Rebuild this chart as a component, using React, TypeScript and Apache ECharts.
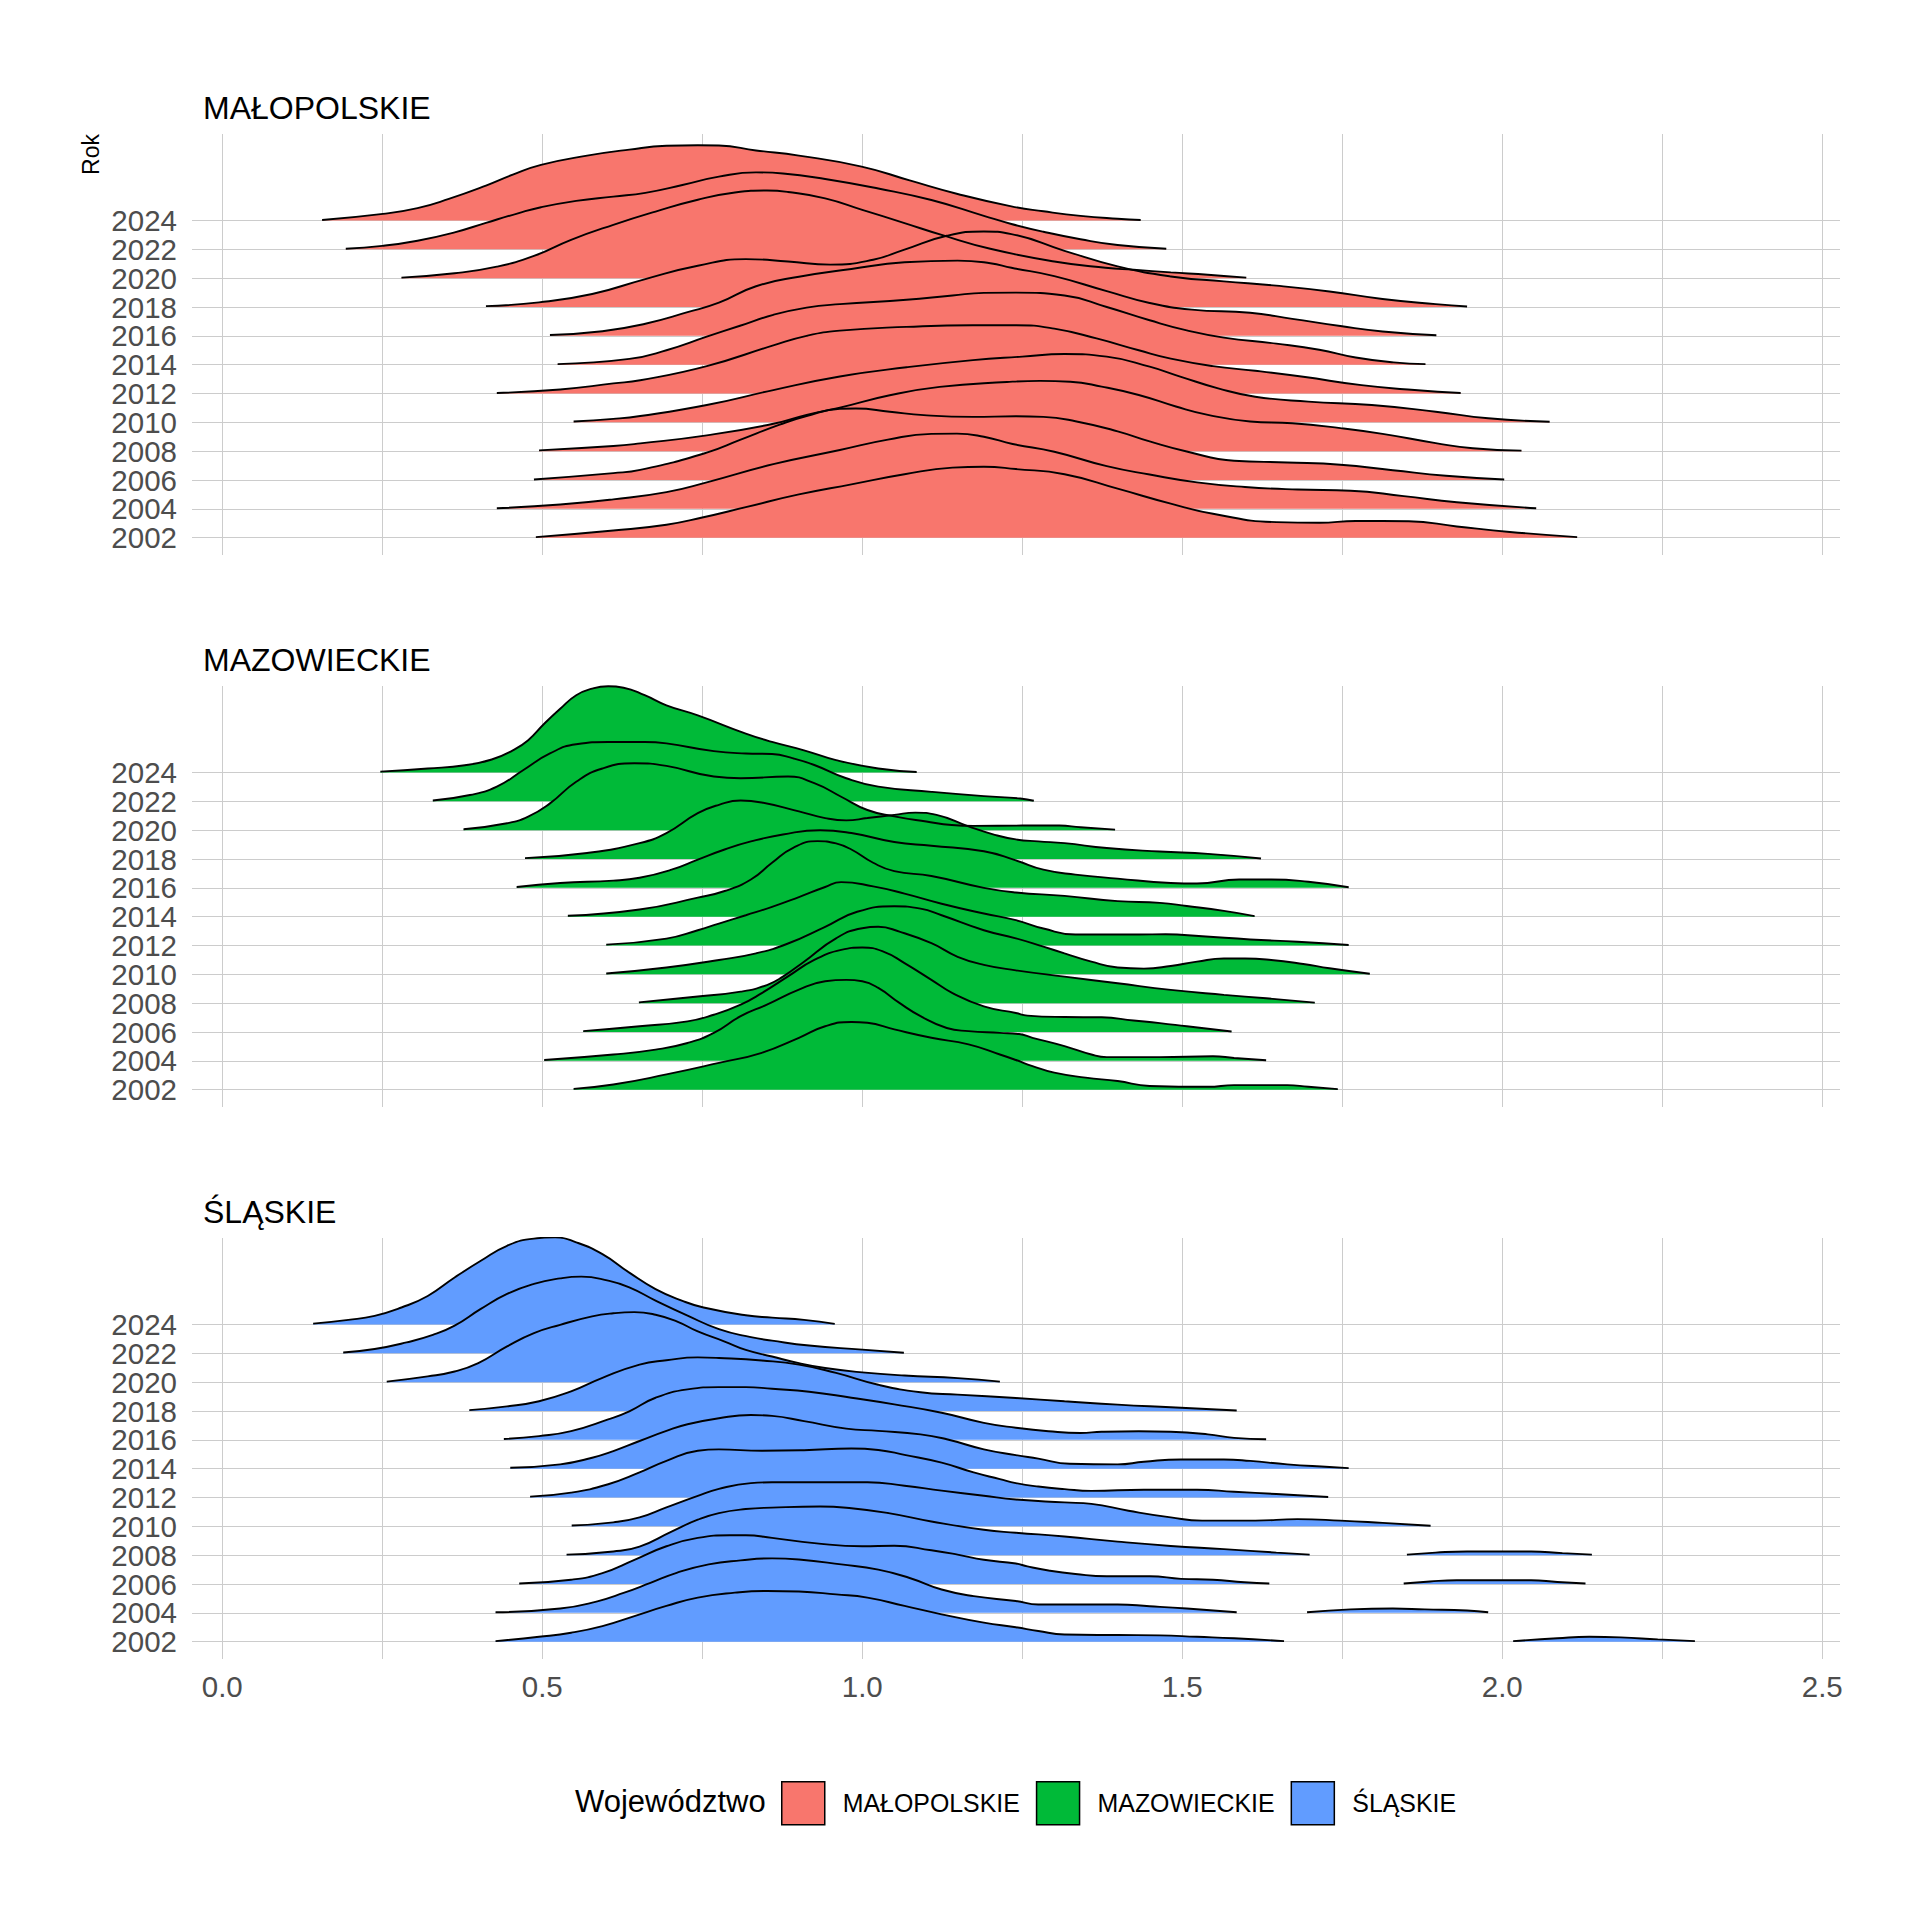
import React, { useEffect, useRef } from "react";
import * as echarts from "echarts";

const YEARS = [2002, 2004, 2006, 2008, 2010, 2012, 2014, 2016, 2018, 2020, 2022, 2024];
const REGIONS = ["MAŁOPOLSKIE", "MAZOWIECKIE", "ŚLĄSKIE"];
const COLORS = ["#F8766D", "#00BA38", "#619CFF"];
const X_TICKS = [0, 0.25, 0.5, 0.75, 1, 1.25, 1.5, 1.75, 2, 2.25, 2.5];
const X_LABELS = [0, 0.5, 1, 1.5, 2, 2.5];
const Y_IDX = [0, 1, 2, 3, 4, 5, 6, 7, 8, 9, 10, 11];
const Y_IDX_EVEN = [0, 2, 4, 6, 8, 10];
const Y_IDX_ODD = [1, 3, 5, 7, 9, 11];

type Pt = [number, number] | null;

// ridge profiles: [value, ridge height in row units], rows in YEARS order (2002 -> 2024)
const MALOPOLSKIE: Pt[][] = [
  [[0.49,0.02],[0.611,0.25],[0.694,0.45],[0.75,0.7],[0.818,1.06],[0.901,1.5],[0.983,1.85],[1.066,2.2],[1.141,2.43],[1.19,2.46],[1.24,2.38],[1.316,2.2],[1.399,1.7],[1.482,1.18],[1.548,0.83],[1.647,0.54],[1.714,0.52],[1.771,0.58],[1.854,0.57],[1.929,0.39],[2.012,0.2],[2.117,0.02]],
  [[0.429,0.02],[0.528,0.15],[0.611,0.33],[0.694,0.58],[0.757,0.92],[0.861,1.55],[0.965,2.04],[1.04,2.4],[1.108,2.6],[1.148,2.61],[1.19,2.5],[1.235,2.25],[1.3,1.98],[1.382,1.48],[1.449,1.19],[1.523,0.92],[1.598,0.76],[1.68,0.67],[1.763,0.63],[1.846,0.44],[1.929,0.23],[2.053,0.02]],
  [[0.487,0.02],[0.611,0.24],[0.653,0.35],[0.757,0.95],[0.809,1.39],[0.871,1.92],[0.913,2.22],[0.965,2.47],[0.99,2.48],[1.043,2.37],[1.096,2.25],[1.173,2.19],[1.24,2.21],[1.283,2.19],[1.333,2.04],[1.399,1.69],[1.449,1.34],[1.507,0.99],[1.581,0.67],[1.664,0.61],[1.747,0.53],[1.829,0.34],[1.912,0.15],[2.003,0.02]],
  [[0.495,0.03],[0.611,0.18],[0.653,0.27],[0.757,0.55],[0.861,0.95],[0.913,1.26],[0.965,1.51],[1.043,1.94],[1.121,2.23],[1.226,2.4],[1.278,2.44],[1.325,2.41],[1.374,2.24],[1.432,1.95],[1.49,1.55],[1.54,1.26],[1.606,1.03],[1.672,0.97],[1.747,0.8],[1.813,0.6],[1.896,0.28],[1.954,0.1],[2.03,0.02]],
  [[0.549,0.03],[0.611,0.12],[0.653,0.22],[0.757,0.6],[0.861,1.12],[0.965,1.59],[1.069,1.91],[1.173,2.16],[1.25,2.28],[1.316,2.37],[1.382,2.28],[1.449,1.93],[1.498,1.58],[1.556,1.18],[1.614,0.89],[1.697,0.72],[1.796,0.6],[1.896,0.37],[1.978,0.14],[2.074,0.02]],
  [[0.429,0.02],[0.528,0.14],[0.611,0.35],[0.653,0.46],[0.757,0.95],[0.861,1.67],[0.913,2.0],[0.965,2.18],[1.069,2.31],[1.173,2.37],[1.24,2.37],[1.3,2.25],[1.366,1.91],[1.432,1.5],[1.482,1.21],[1.548,0.95],[1.614,0.79],[1.689,0.58],[1.78,0.29],[1.863,0.12],[1.935,0.02]],
  [[0.524,0.02],[0.636,0.2],[0.694,0.5],[0.757,0.97],[0.809,1.35],[0.861,1.73],[0.913,1.98],[0.965,2.1],[1.069,2.25],[1.141,2.4],[1.19,2.49],[1.24,2.5],[1.316,2.4],[1.382,2.0],[1.449,1.54],[1.507,1.19],[1.565,0.94],[1.647,0.73],[1.714,0.52],[1.771,0.25],[1.83,0.08],[1.88,0.02]],
  [[0.512,0.03],[0.594,0.16],[0.661,0.42],[0.727,0.82],[0.776,1.15],[0.834,1.72],[0.901,2.05],[0.983,2.32],[1.066,2.55],[1.149,2.61],[1.2,2.52],[1.233,2.36],[1.3,2.07],[1.382,1.55],[1.449,1.14],[1.515,0.91],[1.606,0.8],[1.672,0.59],[1.747,0.34],[1.813,0.15],[1.897,0.02]],
  [[0.412,0.03],[0.495,0.16],[0.578,0.45],[0.661,0.97],[0.743,1.43],[0.818,1.66],[0.884,1.58],[0.95,1.47],[1.017,1.64],[1.066,1.99],[1.132,2.47],[1.19,2.62],[1.233,2.53],[1.316,1.95],[1.399,1.41],[1.482,1.06],[1.565,0.89],[1.647,0.74],[1.73,0.54],[1.813,0.28],[1.896,0.1],[1.945,0.02]],
  [[0.28,0.02],[0.363,0.17],[0.429,0.4],[0.487,0.77],[0.545,1.33],[0.611,1.85],[0.677,2.31],[0.743,2.72],[0.801,2.97],[0.851,3.04],[0.884,2.99],[0.942,2.77],[1.0,2.37],[1.066,1.91],[1.124,1.5],[1.2,1.02],[1.3,0.58],[1.38,0.36],[1.424,0.29],[1.482,0.2],[1.54,0.12],[1.6,0.02]],
  [[0.193,0.02],[0.25,0.12],[0.305,0.3],[0.363,0.59],[0.412,0.92],[0.462,1.25],[0.498,1.46],[0.553,1.68],[0.611,1.83],[0.661,1.96],[0.719,2.23],[0.776,2.52],[0.834,2.67],[0.876,2.63],[0.942,2.44],[1.025,2.11],[1.108,1.71],[1.19,1.16],[1.233,0.88],[1.283,0.61],[1.341,0.35],[1.399,0.15],[1.475,0.02]],
  [[0.156,0.02],[0.251,0.23],[0.305,0.43],[0.354,0.75],[0.412,1.21],[0.454,1.59],[0.498,1.93],[0.57,2.25],[0.636,2.46],[0.694,2.59],[0.743,2.61],[0.776,2.6],[0.834,2.43],[0.901,2.25],[0.999,1.87],[1.074,1.39],[1.149,0.92],[1.233,0.49],[1.283,0.32],[1.341,0.16],[1.399,0.06],[1.435,0.02]],
];

const MAZOWIECKIE: Pt[][] = [
  [[0.549,0.03],[0.611,0.18],[0.694,0.53],[0.776,0.93],[0.843,1.28],[0.901,1.8],[0.942,2.2],[0.983,2.35],[1.008,2.32],[1.05,2.09],[1.108,1.8],[1.166,1.57],[1.215,1.22],[1.24,1.03],[1.266,0.82],[1.3,0.59],[1.349,0.42],[1.399,0.3],[1.449,0.13],[1.54,0.1],[1.581,0.16],[1.664,0.16],[1.697,0.1],[1.743,0.02]],
  [[0.503,0.03],[0.611,0.22],[0.677,0.39],[0.727,0.62],[0.768,0.97],[0.81,1.55],[0.851,1.95],[0.901,2.47],[0.942,2.76],[0.975,2.81],[1.0,2.76],[1.025,2.53],[1.058,2.01],[1.091,1.55],[1.132,1.14],[1.166,1.03],[1.215,0.97],[1.245,0.93],[1.266,0.8],[1.316,0.51],[1.358,0.22],[1.382,0.13],[1.465,0.13],[1.548,0.16],[1.581,0.1],[1.631,0.02]],
  [[0.564,0.03],[0.652,0.2],[0.727,0.37],[0.768,0.6],[0.81,0.95],[0.843,1.35],[0.884,1.93],[0.925,2.5],[0.967,2.85],[1.0,2.93],[1.033,2.79],[1.066,2.39],[1.108,1.81],[1.141,1.35],[1.19,0.89],[1.24,0.66],[1.258,0.57],[1.316,0.52],[1.374,0.51],[1.424,0.4],[1.465,0.31],[1.507,0.2],[1.577,0.02]],
  [[0.651,0.03],[0.743,0.23],[0.81,0.4],[0.851,0.63],[0.876,0.92],[0.909,1.44],[0.959,2.25],[1.0,2.6],[1.025,2.65],[1.058,2.48],[1.108,2.08],[1.149,1.61],[1.19,1.33],[1.24,1.14],[1.316,0.92],[1.399,0.69],[1.482,0.46],[1.565,0.29],[1.631,0.17],[1.707,0.02]],
  [[0.6,0.03],[0.694,0.24],[0.776,0.5],[0.834,0.73],[0.884,1.07],[0.942,1.65],[0.992,2.17],[1.05,2.36],[1.091,2.28],[1.124,2.05],[1.19,1.53],[1.24,1.25],[1.283,0.96],[1.316,0.73],[1.358,0.44],[1.399,0.24],[1.44,0.2],[1.482,0.29],[1.523,0.44],[1.565,0.55],[1.598,0.55],[1.639,0.5],[1.689,0.36],[1.73,0.21],[1.793,0.02]],
  [[0.6,0.03],[0.694,0.24],[0.743,0.53],[0.776,0.76],[0.818,1.05],[0.859,1.34],[0.901,1.68],[0.942,2.03],[0.967,2.2],[1.017,2.05],[1.066,1.8],[1.124,1.45],[1.19,1.11],[1.24,0.88],[1.283,0.59],[1.333,0.38],[1.432,0.38],[1.474,0.39],[1.531,0.32],[1.606,0.21],[1.68,0.13],[1.76,0.02]],
  [[0.54,0.03],[0.652,0.25],[0.743,0.66],[0.785,0.89],[0.826,1.29],[0.859,1.87],[0.892,2.39],[0.93,2.62],[0.959,2.54],[0.983,2.33],[1.017,1.87],[1.05,1.58],[1.108,1.41],[1.19,1.0],[1.24,0.84],[1.316,0.72],[1.399,0.54],[1.465,0.48],[1.507,0.37],[1.565,0.2],[1.613,0.02]],
  [[0.46,0.03],[0.528,0.17],[0.611,0.25],[0.652,0.35],[0.702,0.63],[0.743,0.98],[0.785,1.33],[0.826,1.61],[0.876,1.85],[0.934,2.0],[0.983,1.9],[1.05,1.59],[1.108,1.46],[1.19,1.27],[1.24,0.95],[1.283,0.63],[1.333,0.46],[1.399,0.32],[1.482,0.17],[1.523,0.15],[1.589,0.29],[1.639,0.29],[1.697,0.21],[1.76,0.02]],
  [[0.473,0.03],[0.57,0.21],[0.652,0.55],[0.694,0.9],[0.743,1.59],[0.776,1.88],[0.81,2.03],[0.843,1.96],[0.901,1.65],[0.942,1.42],[0.975,1.34],[1.008,1.42],[1.05,1.53],[1.083,1.61],[1.116,1.53],[1.166,1.13],[1.207,0.84],[1.24,0.68],[1.275,0.61],[1.316,0.55],[1.382,0.38],[1.465,0.26],[1.54,0.18],[1.623,0.02]],
  [[0.377,0.03],[0.445,0.24],[0.478,0.47],[0.512,0.93],[0.553,1.68],[0.594,2.14],[0.644,2.32],[0.694,2.23],[0.768,1.86],[0.81,1.8],[0.884,1.86],[0.925,1.63],[0.967,1.16],[1.008,0.7],[1.05,0.48],[1.1,0.3],[1.14,0.18],[1.174,0.15],[1.25,0.16],[1.308,0.16],[1.341,0.1],[1.395,0.02]],
  [[0.329,0.03],[0.387,0.22],[0.429,0.51],[0.47,1.08],[0.512,1.66],[0.553,1.98],[0.603,2.06],[0.66,2.06],[0.694,2.01],[0.768,1.74],[0.818,1.66],[0.859,1.64],[0.892,1.49],[0.925,1.26],[0.975,0.8],[1.025,0.51],[1.108,0.33],[1.19,0.18],[1.247,0.1],[1.268,0.02]],
  [[0.247,0.03],[0.321,0.14],[0.379,0.25],[0.421,0.45],[0.454,0.77],[0.478,1.12],[0.503,1.69],[0.528,2.21],[0.553,2.68],[0.578,2.91],[0.603,2.99],[0.627,2.94],[0.66,2.68],[0.694,2.33],[0.743,1.98],[0.818,1.35],[0.859,1.06],[0.909,0.77],[0.959,0.43],[1.025,0.14],[1.085,0.02]],
];

const SLASKIE: Pt[][] = [
  [[0.427,0.02],[0.495,0.17],[0.545,0.31],[0.594,0.54],[0.644,0.89],[0.694,1.24],[0.743,1.53],[0.801,1.7],[0.851,1.76],[0.901,1.74],[0.959,1.64],[1.008,1.53],[1.066,1.24],[1.124,0.95],[1.19,0.66],[1.24,0.5],[1.275,0.37],[1.316,0.25],[1.399,0.23],[1.465,0.22],[1.523,0.17],[1.581,0.12],[1.659,0.02],null,[2.017,0.02],[2.086,0.12],[2.136,0.17],[2.185,0.15],[2.243,0.08],[2.301,0.02]],
  [[0.427,0.02],[0.528,0.15],[0.586,0.4],[0.627,0.69],[0.669,1.04],[0.71,1.39],[0.76,1.68],[0.81,1.82],[0.859,1.89],[0.901,1.85],[0.967,1.68],[1.025,1.5],[1.074,1.21],[1.124,0.81],[1.174,0.58],[1.24,0.41],[1.275,0.29],[1.399,0.29],[1.449,0.23],[1.507,0.15],[1.585,0.02],null,[1.695,0.02],[1.763,0.12],[1.829,0.15],[1.879,0.12],[1.945,0.08],[1.978,0.02]],
  [[0.464,0.02],[0.545,0.15],[0.594,0.38],[0.644,0.84],[0.694,1.31],[0.743,1.6],[0.793,1.69],[0.818,1.69],[0.859,1.6],[0.925,1.42],[1.0,1.31],[1.05,1.33],[1.108,1.17],[1.149,1.02],[1.19,0.84],[1.24,0.71],[1.258,0.61],[1.291,0.47],[1.333,0.35],[1.382,0.27],[1.449,0.27],[1.498,0.18],[1.548,0.15],[1.597,0.06],[1.636,0.02],null,[1.846,0.02],[1.887,0.09],[1.929,0.13],[2.045,0.13],[2.086,0.07],[2.13,0.02]],
  [[0.538,0.02],[0.611,0.13],[0.652,0.3],[0.702,0.82],[0.743,1.23],[0.776,1.46],[0.818,1.6],[0.859,1.65],[0.934,1.69],[0.983,1.63],[1.041,1.46],[1.108,1.17],[1.19,0.88],[1.24,0.78],[1.316,0.65],[1.399,0.47],[1.482,0.32],[1.565,0.21],[1.647,0.09],[1.699,0.02],null,[1.851,0.02],[1.896,0.09],[1.945,0.13],[2.003,0.13],[2.045,0.13],[2.094,0.07],[2.14,0.02]],
  [[0.546,0.03],[0.611,0.14],[0.652,0.31],[0.694,0.66],[0.743,1.06],[0.776,1.3],[0.826,1.5],[0.859,1.53],[0.942,1.53],[1.008,1.53],[1.066,1.41],[1.124,1.24],[1.19,1.06],[1.24,0.93],[1.316,0.83],[1.358,0.78],[1.416,0.54],[1.482,0.31],[1.531,0.2],[1.614,0.2],[1.68,0.25],[1.747,0.2],[1.813,0.12],[1.888,0.02]],
  [[0.481,0.03],[0.545,0.17],[0.603,0.46],[0.652,0.87],[0.694,1.27],[0.743,1.62],[0.776,1.67],[0.843,1.62],[0.909,1.64],[0.983,1.7],[1.025,1.65],[1.066,1.48],[1.124,1.21],[1.174,0.87],[1.215,0.64],[1.24,0.5],[1.275,0.38],[1.316,0.29],[1.358,0.23],[1.44,0.27],[1.523,0.27],[1.581,0.2],[1.647,0.12],[1.728,0.02]],
  [[0.45,0.03],[0.528,0.15],[0.578,0.38],[0.611,0.61],[0.652,0.96],[0.694,1.31],[0.727,1.54],[0.776,1.75],[0.826,1.86],[0.859,1.83],[0.909,1.65],[0.975,1.39],[1.025,1.31],[1.091,1.19],[1.132,1.02],[1.19,0.67],[1.24,0.47],[1.275,0.35],[1.324,0.17],[1.399,0.15],[1.44,0.24],[1.498,0.32],[1.565,0.32],[1.606,0.27],[1.664,0.15],[1.73,0.06],[1.76,0.02]],
  [[0.44,0.03],[0.495,0.13],[0.545,0.3],[0.603,0.71],[0.636,0.99],[0.677,1.46],[0.727,1.75],[0.776,1.83],[0.818,1.83],[0.859,1.77],[0.917,1.67],[0.983,1.46],[1.05,1.23],[1.124,0.94],[1.19,0.59],[1.24,0.42],[1.291,0.3],[1.341,0.24],[1.374,0.28],[1.432,0.3],[1.482,0.28],[1.54,0.19],[1.581,0.07],[1.631,0.02]],
  [[0.386,0.03],[0.445,0.16],[0.495,0.34],[0.545,0.68],[0.594,1.15],[0.652,1.61],[0.694,1.76],[0.743,1.86],[0.776,1.84],[0.843,1.75],[0.901,1.61],[0.959,1.32],[1.025,0.91],[1.091,0.65],[1.149,0.57],[1.24,0.45],[1.316,0.34],[1.399,0.22],[1.482,0.13],[1.585,0.02]],
  [[0.257,0.02],[0.321,0.2],[0.363,0.37],[0.4,0.66],[0.445,1.24],[0.487,1.7],[0.528,1.99],[0.578,2.28],[0.611,2.39],[0.644,2.43],[0.677,2.34],[0.71,2.11],[0.743,1.76],[0.785,1.41],[0.818,1.12],[0.859,0.89],[0.901,0.66],[0.942,0.49],[1.0,0.34],[1.066,0.23],[1.149,0.14],[1.215,0.02]],
  [[0.189,0.03],[0.238,0.15],[0.288,0.38],[0.329,0.64],[0.363,0.96],[0.404,1.54],[0.445,2.06],[0.487,2.41],[0.528,2.6],[0.561,2.66],[0.603,2.52],[0.636,2.29],[0.677,1.83],[0.727,1.31],[0.776,0.84],[0.826,0.56],[0.859,0.44],[0.917,0.27],[1.0,0.13],[1.065,0.02]],
  [[0.142,0.03],[0.197,0.16],[0.238,0.3],[0.28,0.59],[0.321,0.99],[0.363,1.63],[0.404,2.21],[0.445,2.73],[0.487,2.98],[0.52,3.02],[0.553,2.85],[0.594,2.44],[0.636,1.8],[0.677,1.23],[0.719,0.82],[0.752,0.59],[0.818,0.32],[0.859,0.24],[0.909,0.16],[0.957,0.02]],
];

const REGION_DATA = [MALOPOLSKIE, MAZOWIECKIE, SLASKIE];

const FONT = "'Liberation Sans', Arial, Helvetica, sans-serif";
const GRID_TOPS = [134, 686, 1238];
const GRID_H = 421;
const GRID_LEFT = 192;
const GRID_W = 1648;
const X_MIN = -0.0473;
const X_MAX = 2.5277;
const Y_MIN = -0.6;
const Y_MAX = 14.0;
const GRID_COLOR = "#CCCCCC";
const TITLE_Y = [108, 660, 1212];

function yAxisFor(g: number, labelIdx: number[], main: boolean) {
  return {
    type: "value",
    gridIndex: g,
    min: Y_MIN,
    max: Y_MAX,
    position: "left",
    offset: 0,
    axisLine: { show: false },
    axisTick: { show: false, customValues: main ? Y_IDX : labelIdx },
    splitLine: { show: main, lineStyle: { color: GRID_COLOR, width: 1 } },
    axisLabel: {
      customValues: labelIdx,
      showMinLabel: true,
      showMaxLabel: true,
      hideOverlap: false,
      formatter: (v: number) => String(YEARS[Math.round(v)]),
      fontSize: 29.5,
      color: "#4D4D4D",
      fontFamily: FONT,
      margin: 15,
    },
  };
}

function buildOption() {
  const series: any[] = [];
  REGION_DATA.forEach((ridges, g) => {
    for (let i = YEARS.length - 1; i >= 0; i--) {
      const pts = ridges[i];
      const data = pts.map((p, k) => {
        if (p) return [p[0], i + p[1]];
        const a = pts[k - 1] as [number, number];
        const b = pts[k + 1] as [number, number];
        return [(a[0] + b[0]) / 2, "-"];
      });
      series.push({
        type: "line",
        name: REGIONS[g],
        xAxisIndex: g,
        yAxisIndex: g * 2,
        data,
        smooth: 0.5,
        showSymbol: false,
        symbol: "none",
        connectNulls: false,
        silent: true,
        lineStyle: { color: "#000000", width: 1.9 },
        itemStyle: { color: COLORS[g] },
        areaStyle: { color: COLORS[g], opacity: 1, origin: i },
        emphasis: { disabled: true },
        z: 2,
      });
    }
  });

  const graphic: any[] = [];
  REGIONS.forEach((r, g) => {
    graphic.push({
      type: "text",
      x: 203,
      y: TITLE_Y[g],
      silent: true,
      style: {
        text: r,
        fontSize: 32,
        fontFamily: FONT,
        fill: "#000000",
        align: "left",
        verticalAlign: "middle",
      },
    });
  });
  graphic.push({
    type: "text",
    x: 91,
    y: 154.5,
    rotation: Math.PI / 2,
    silent: true,
    style: {
      text: "Rok",
      fontSize: 23,
      fontFamily: FONT,
      fill: "#000000",
      align: "center",
      verticalAlign: "middle",
    },
  });
  graphic.push({
    type: "text",
    x: 575,
    y: 1801,
    silent: true,
    style: {
      text: "Województwo",
      fontSize: 31,
      fontFamily: FONT,
      fill: "#000000",
      align: "left",
      verticalAlign: "middle",
    },
  });

  const yAxis: any[] = [];
  [0, 1, 2].forEach((g) => {
    yAxis.push(yAxisFor(g, Y_IDX_EVEN, true));
    yAxis.push(yAxisFor(g, Y_IDX_ODD, false));
  });

  return {
    animation: false,
    backgroundColor: "#ffffff",
    textStyle: { fontFamily: FONT },
    grid: GRID_TOPS.map((t) => ({
      left: GRID_LEFT,
      top: t,
      width: GRID_W,
      height: GRID_H,
      containLabel: false,
      outerBoundsMode: "none",
    })),
    xAxis: [0, 1, 2].map((g) => ({
      type: "value",
      gridIndex: g,
      min: X_MIN,
      max: X_MAX,
      axisLine: { show: false },
      axisTick: { show: false, customValues: X_TICKS },
      splitLine: { show: true, lineStyle: { color: GRID_COLOR, width: 1 } },
      axisLabel: {
        show: g === 2,
        customValues: X_LABELS,
        showMinLabel: true,
        showMaxLabel: true,
        hideOverlap: false,
        formatter: (v: number) => v.toFixed(1),
        fontSize: 29.5,
        color: "#4D4D4D",
        fontFamily: FONT,
        margin: 12,
      },
    })),
    yAxis,
    legend: {
      data: REGIONS,
      left: 776,
      top: 1776,
      orient: "horizontal",
      icon: "rect",
      itemWidth: 43,
      itemHeight: 43,
      itemGap: 16,
      selectedMode: false,
      itemStyle: { borderColor: "#000000", borderWidth: 1.5 },
      textStyle: {
        fontSize: 24.9,
        color: "#000000",
        fontFamily: FONT,
        padding: [0, 0, 0, 13],
      },
    },
    graphic,
    series,
  };
}

export default function App() {
  const ref = useRef<HTMLDivElement>(null);
  useEffect(() => {
    if (!ref.current) return;
    const chart = echarts.init(ref.current, null, { renderer: "svg" });
    chart.setOption(buildOption() as any);
    return () => chart.dispose();
  }, []);
  return (
    <div
      ref={ref}
      style={{ position: "absolute", left: 0, top: 0, width: 1920, height: 1920, background: "#ffffff" }}
    />
  );
}
